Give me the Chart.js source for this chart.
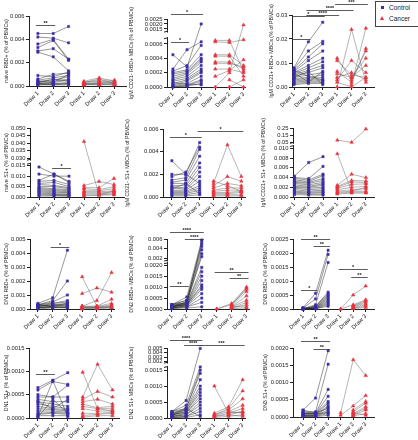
<!DOCTYPE html>
<html>
<head>
<meta charset="utf-8">
<script src="https://cdn.jsdelivr.net/npm/chart.js@4.4.1/dist/chart.umd.min.js"></script>
<style>
    body { margin: 0; background: #fff; }
    #wrap { position: relative; width: 418px; height: 440px; overflow: hidden; background: #fff; }
    #wrap canvas { position: absolute; }
    .legend {
        position: absolute; left: 375px; top: 1px; width: 48px; height: 24px;
        border: 1px solid #444; font: 6.5px 'Liberation Sans', Arial, sans-serif; color: #222;
    }
    .legend div { position: absolute; left: 13px; }
    .legend .sq { position: absolute; left: 5px; top: 4px; width: 3px; height: 3px; background: #3a2fa8; }
    .legend .tri {
        position: absolute; left: 4px; top: 14px; width: 0; height: 0;
        border-left: 2.5px solid transparent; border-right: 2.5px solid transparent; border-bottom: 4px solid #e8323c;
    }
</style>
</head>
<body>
<div id="wrap">
    <div class="legend">
        <span class="sq"></span><div style="top:2px">Control</div>
        <span class="tri"></span><div style="top:13px">Cancer</div>
    </div>
</div>
<script>
const drawLabels = ['Draw 1', 'Draw 2', 'Draw 3'];

// values per subject: [draw 1, draw 2, draw 3], % of PBMCs
const naiveRbdCtrl = [
    [.0045, .0045, .0051], [.0042, .0041, .0037], [.0036, .0040, .0023], [.0033, .0039, .0022],
    [.0030, .0032, .0023], [.0029, .0025, .0013], [.0009, .0008, .0012], [.0006, .0010, .0011],
    [.0005, .0007, .0009], [.0004, .0005, .0008], [.0003, .0004, .0006], [.0003, .0006, .0004],
    [.0002, .0003, .0005], [.0002, .0002, .0003], [.0001, .0002, .0002], [.0001, .0001, .0001],
    [.0004, .0003, .0010], [.0002, .0001, .0002],
];
const naiveRbdCanc = [
    [.0004, .0007, .0004], [.0003, .0005, .0005], [.0003, .0004, .0003], [.0002, .0003, .0004],
    [.0002, .0002, .0003], [.0001, .0003, .0002], [.0001, .0001, .0002], [.0003, .0006, .0002],
    [.0001, .0002, .0001], [.0002, .0001, .0001],
];
const naiveRbdTicks = [0, .002, .004, .006];
const naiveRbdSig = [[0, 1, .00525, '**']];

const igmNegRbdCtrl = [
    [.00045, .00028, .0020], [.00025, .00052, .00063], [.00022, .00030, .00058], [.00020, .00024, .00045],
    [.00018, .00022, .00040], [.00015, .00020, .00038], [.00012, .00018, .00035], [.00010, .00015, .00030],
    [.00008, .00012, .00025], [.00005, .00010, .00022], [.00003, .00008, .00020], [.00002, .00005, .00015],
    [.00001, .00003, .00010], [0, .00002, .00008], [0, .00001, .00005], [.00006, .00004, .00003],
];
const igmNegRbdCanc = [
    [.00065, .00065, .00022], [.00063, .00062, .00066], [.00045, .00045, .00030], [.00043, .00043, .00015],
    [.00035, .00035, .00025], [.00033, .00033, .00028], [.00025, .00025, .00020], [.00015, .00023, .00038],
    [0, .00020, .0019], [null, 0, .0001], [null, .0001, 0],
];
const igmNegRbdTicksLow = [0, .0002, .0004, .0006];
const igmNegRbdTicksHigh = [.0015, .0020, .0025];
const igmNegRbdSig = [[0, 1, .00063, '*'], [0, 2, .0030, '*']];

const igmPosRbdCtrl = [
    [.0080, .0188, .0270], [.0075, .0150, .0190], [.0070, .0125, .0180], [.0065, .0110, .0150],
    [.0060, .0090, .0120], [.0055, .0080, .0105], [.0050, .0070, .0090], [.0045, .0060, .0080],
    [.0040, .0050, .0060], [.0035, .0040, .0050], [.0030, .0035, .0040], [.0025, .0030, .0030],
    [.0020, .0025, .0025], [.0015, .0020, .0020], [.0010, .0015, .0015], [.0070, .0045, .0030],
    [.0060, .0020, .0065], [.0040, .0065, .0010],
];
const igmPosRbdCanc = [
    [.0120, .0030, .0150], [.0110, .0050, .0040], [.0065, .0020, .0160], [.0055, .0040, .0090],
    [.0040, .0060, .0030], [.0030, .0110, .0060], [0, .0240, .0020], [null, .0010, .0245],
    [null, .0040, .0120], [.0020, 0, .0040],
];
const igmPosRbdTicks = [0, .01, .02, .03];
const igmPosRbdSig = [
    [0, 1, .0198, '*'], [0, 2, .0296, '*'], [1, 3, .0301, '****'], [1, 4, .0322, '****'], [3, 5, .0344, '***'],
];

const naiveS1Ctrl = [
    [.0144, .0110, .0075], [.0110, .0100, .0100], [.0080, .0110, .0070], [.0075, .0080, .0060],
    [.0065, .0070, .0050], [.0060, .0055, .0045], [.0050, .0050, .0040], [.0045, .0040, .0035],
    [.0040, .0035, .0030], [.0035, .0030, .0025], [.0030, .0025, .0020], [.0025, .0020, .0018],
    [.0020, .0015, .0012], [.0015, .0012, .0010], [.0010, .0008, .0006], [.0005, .0005, .0004],
];
const naiveS1Canc = [
    [.0410, .0010, .0030], [.0055, .0075, .0060], [.0045, .0045, .0089], [.0040, .0035, .0050],
    [.0030, .0030, .0040], [.0025, .0025, .0030], [.0020, .0020, .0025], [.0015, .0015, .0020],
    [.0010, .0010, .0015], [.0005, .0008, .0010],
];
const naiveS1TicksLow = [0, .005, .010, .015];
const naiveS1TicksHigh = [.030, .035, .040, .045, .050];
const naiveS1Sig = [[1, 2, .0139, '*']];

const igmNegS1Ctrl = [
    [.0032, .0020, .0012], [.0020, .0020, .0048], [.0018, .0022, .0044], [.0015, .0017, .0042],
    [.0013, .0015, .0036], [.0012, .0012, .0030], [.0010, .0010, .0026], [.0009, .0008, .0022],
    [.0008, .0007, .0018], [.0006, .0006, .0014], [.0005, .0005, .0010], [.0004, .0004, .0008],
    [.0003, .0003, .0006], [.0002, .0002, .0004], [.0001, .0001, .0002], [.0007, .0012, .0003],
];
const igmNegS1Canc = [
    [.0014, .0010, .0005], [.0012, .0046, .0018], [.0010, .0018, .0014], [.0008, .0012, .0010],
    [.0006, .0008, .0008], [.0005, .0006, .0006], [.0004, .0004, .0005], [.0003, .0003, .0004],
    [.0002, .0002, .0002], [.0001, .0001, .0001],
];
const igmNegS1Ticks = [0, .002, .004, .006];
const igmNegS1Sig = [[0, 2, .0053, '*'], [2, 5, .00585, '*']];

const igmPosS1Ctrl = [
    [.0043, .0071, .0083], [.0040, .0038, .0063], [.0038, .0035, .0047], [.0035, .0032, .0044],
    [.0032, .0030, .0038], [.0030, .0028, .0034], [.0028, .0025, .0030], [.0025, .0022, .0027],
    [.0022, .0020, .0024], [.0020, .0018, .0020], [.0018, .0015, .0017], [.0015, .0012, .0014],
    [.0012, .0010, .0011], [.0010, .0008, .0009], [.0008, .0006, .0006], [.0005, .0004, .0004],
];
const igmPosS1Canc = [
    [.0830, .0520, .2400], [.0089, .0012, .0020], [.0024, .0047, .0040], [.0022, .0034, .0033],
    [.0020, .0031, .0030], [.0018, .0026, .0027], [.0015, .0020, .0022], [.0012, .0015, .0017],
    [.0010, .0012, .0012], [.0008, .0010, .0010], [.0006, .0008, .0008],
];
const igmPosS1TicksLow = [0, .002, .004, .006, .008, .010];
const igmPosS1TicksHigh = [.05, .15, .25];
const igmPosS1Sig = [];

const dn1RbdCtrl = [
    [.0004, .0008, .0042], [.0003, .0006, .0020], [.0003, .0005, .0010], [.0003, .0004, .0006],
    [.0002, .0004, .0005], [.0002, .0003, .0004], [.0002, .0003, .0003], [.0002, .0002, .0003],
    [.0001, .0002, .0002], [.0001, .0002, .0002], [.0001, .0001, .0001], [.0001, .0001, .0001],
    [0, .0001, .0001], [.0003, .0002, .0004],
];
const dn1RbdCanc = [
    [.0023, .0002, .0002], [.0011, .0015, .0012], [.0002, .0006, .0026], [.0002, .0002, .0007],
    [.0001, .0002, .0004], [.0001, .0001, .0003], [.0001, .0001, .0002], [0, .0001, .0001],
    [.0002, .0001, .0001], [.0001, 0, .0001],
];
const dn1RbdTicks = [0, .001, .002, .003, .004, .005];
const dn1RbdSig = [[1, 2, .00445, '*']];

const dn2RbdCtrl = [
    [.0002, .00055, .0058], [.0002, .0004, .0050], [.0002, .0004, .0045], [.0002, .0003, .0038],
    [.00015, .0003, .0030], [.00015, .0003, .0024], [.00015, .00025, .0019], [.0001, .00025, .0017],
    [.0001, .0002, .0015], [.0001, .0002, .0013], [.0001, .0002, .0011], [.00005, .00015, .0009],
    [.00005, .00015, .0007], [.00005, .0001, .0005], [.00002, .0001, .0003], [.00002, .00005, .0001],
    [.0001, .0003, .0055], [.0001, .0002, .0010],
];
const dn2RbdCanc = [
    [0, .00025, .0010], [0, .0002, .00095], [null, .0002, .0009], [null, .00015, .0008],
    [null, .0001, .0006], [null, .0001, .0004], [null, .00005, .0003], [null, .00005, .0002],
    [null, .0001, .0001], [null, .00002, .00005],
];
const dn2RbdTicksLow = [0, .0005, .0010, .0015, .0020];
const dn2RbdTicksHigh = [.002, .004, .006];
const dn2RbdSig = [
    [0, 1, .00106, '**'], [0, 2, .0075, '****'], [1, 2, .0061, '****'], [3, 5, .00168, '**'], [4, 5, .0014, '**'],
];

const dn3RbdCtrl = [
    [.00005, .00056, .0021], [.00003, .00036, .00195], [.00002, .00015, .00166], [.00002, .0001, .0006],
    [.00001, .0001, .00055], [.00001, .00008, .0005], [.00001, .00006, .00045], [0, .00005, .0004],
    [0, .00004, .00035], [0, .00003, .0003], [0, .00002, .00025], [0, .00002, .0002],
    [0, .00001, .00015], [0, .00001, .0001],
];
const dn3RbdCanc = [
    [0, .0005, .00082], [0, .00015, .00033], [null, .00012, .0003], [null, .0001, .00025],
    [null, .00008, .0002], [null, .00005, .00015], [null, .00003, .0001], [null, .00002, .00005],
];
const dn3RbdTicks = [0, .0005, .0010, .0015, .0020, .0025];
const dn3RbdSig = [
    [0, 1, .00068, '*'], [0, 2, .00249, '**'], [1, 2, .00225, '**'], [3, 5, .00142, '*'], [4, 5, .00116, '**'],
];

const dn1S1Ctrl = [
    [.00065, .00081, .00097], [.00060, .00078, .00072], [.00050, .00045, .00070], [.00045, .00045, .00045],
    [.00040, .00035, .00035], [.00035, .00030, .00025], [.00030, .00025, .00020], [.00025, .00020, .00018],
    [.00020, .00018, .00015], [.00015, .00015, .00012], [.00010, .00012, .00010], [.00008, .00010, .00008],
    [.00005, .00005, .00005], [.00003, .00080, .00003], [.00035, .00020, .00040], [.00002, .00040, .00010],
];
const dn1S1Canc = [
    [.00098, .00020, .00015], [.00045, .00115, .00060], [.00040, .00057, .00045], [.00035, .00040, .00030],
    [.00030, .00022, .00025], [.00025, .00020, .00020], [.00020, .00015, .00015], [.00010, .00010, .00012],
    [.00005, .00008, .00010], [.00002, .00005, .00005],
];
const dn1S1Ticks = [0, .0005, .0010, .0015];
const dn1S1Sig = [[0, 1, .00095, '**']];

const dn2S1Ctrl = [
    [.0002, .00055, .0049], [.0002, .0004, .0016], [.0002, .0003, .0015], [.00015, .0003, .0014],
    [.00015, .00025, .0012], [.0001, .00025, .0010], [.0001, .0002, .0009], [.0001, .0002, .0008],
    [.0001, .00015, .0007], [.00005, .00015, .0006], [.00005, .0001, .0005], [.00005, .0001, .0004],
    [.00002, .00005, .0003], [.00002, .00005, .0002], [.00001, .00002, .0001], [.0001, .0003, .00005],
];
const dn2S1Canc = [
    [.0010, .00015, .0002], [.00015, .00035, .0012], [.0001, .0003, .00085], [.0001, .00025, .0006],
    [.00008, .0002, .0004], [.00005, .00015, .0003], [.00005, .0001, .0002], [.00002, .00005, .0001],
    [null, .0002, .00015], [null, .0001, .00005],
];
const dn2S1TicksLow = [0, .0005, .0010, .0015];
const dn2S1TicksHigh = [.002, .003, .004, .005];
const dn2S1Sig = [[0, 2, .0067, '****'], [1, 2, .0057, '****'], [2, 5, .0057, '***']];

const dn3S1Ctrl = [
    [.0002, .00055, .00192], [.00015, .00015, .00153], [.0001, .00012, .0008], [.0001, .0001, .0006],
    [.0001, .0001, .00045], [.00008, .00008, .0004], [.00006, .00006, .00033], [.00005, .00005, .00028],
    [.00004, .00004, .0002], [.00003, .00003, .00015], [.00002, .00002, .0001], [.00001, .00001, .00005],
    [.0002, .00012, .00025], [.00015, .0001, .00012],
];
const dn3S1Canc = [
    [.00012, .00166, .0012], [.00005, .00032, .00062], [null, .0002, .00045], [null, .00015, .0004],
    [null, .0001, .0003], [null, .00008, .00025], [null, .00005, .0002], [null, .00003, .0001],
    [null, .00012, .00005],
];
const dn3S1Ticks = [0, .0005, .0010, .0015, .0020];
const dn3S1Sig = [[0, 2, .0022, '**'], [1, 2, .00198, '**']];

const blue = '#3a2fa8';
const red = '#e8323c';
const fontFamily = "'Liberation Sans', Arial, sans-serif";

// linear y scale that can jump over a gap (GraphPad style broken axis)
class BrokenScale extends Chart.LinearScale {
    decimalOf(v, seg) {
        const b = this.brk;
        if (!b) {
            return (v - this.min) / (this.max - this.min);
        }
        const upper = seg === undefined ? v > b.low : seg === 1;
        if (!upper) {
            return ((v - this.min) / (b.low - this.min)) * b.split;
        }
        return b.split + b.gap + ((v - b.high) / (this.max - b.high)) * (1 - b.split - b.gap);
    }

    getPixelForValue(v) {
        if (v === null || v === undefined) return NaN;
        return this.getPixelForDecimal(this.decimalOf(v));
    }

    getPixelForTick(index) {
        const tick = this.ticks[index];
        if (!tick) return null;
        return this.getPixelForDecimal(this.decimalOf(tick.value, tick.seg));
    }
}
BrokenScale.id = 'broken';
BrokenScale.defaults = Chart.LinearScale.defaults;
Chart.register(BrokenScale);

const plain = (ticks) => ticks.map((v) => [v, 0]);
const split = (low, high) => low.map((v) => [v, 0]).concat(high.map((v) => [v, 1]));

const panels = [
    {
        title: 'naive RBD+ (% of PBMCs)', ctrl: naiveRbdCtrl, canc: naiveRbdCanc, sig: naiveRbdSig,
        ticks: plain(naiveRbdTicks), max: .006, dec: [3, 3],
        cell: [3, 0], plot: [29, 16, 127, 86], xr: [-0.58, 5.78],
    },
    {
        title: 'IgM CD21- RBD+ MBCs (% of PBMCs)', ctrl: igmNegRbdCtrl, canc: igmNegRbdCanc, sig: igmNegRbdSig,
        ticks: split(igmNegRbdTicksLow, igmNegRbdTicksHigh), max: .0025, dec: [4, 4],
        brk: { low: .00068, high: .00123, split: .717, gap: .098 },
        cell: [128, 0], plot: [167, 19, 246, 87], xr: [-0.42, 5.14],
    },
    {
        title: 'IgM CD21+ RBD+ MBCs (% of PBMCs)', ctrl: igmPosRbdCtrl, canc: igmPosRbdCanc, sig: igmPosRbdSig,
        ticks: plain(igmPosRbdTicks), max: .03, dec: [2, 2],
        cell: [268, 0], plot: [292, 15, 375, 87], xr: [-0.14, 5.6],
    },
    {
        title: 'naive S1+ (% of PBMCs)', ctrl: naiveS1Ctrl, canc: naiveS1Canc, sig: naiveS1Sig,
        ticks: split(naiveS1TicksLow, naiveS1TicksHigh), max: .050, dec: [3, 3],
        brk: { low: .016, high: .029, split: .483, gap: .058 },
        cell: [3, 105], plot: [30, 128, 125, 197], xr: [-0.6, 5.7],
    },
    {
        title: 'IgM CD21- S1+ MBCs (% of PBMCs)', ctrl: igmNegS1Ctrl, canc: igmNegS1Canc, sig: igmNegS1Sig,
        ticks: plain(igmNegS1Ticks), max: .006, dec: [3, 3],
        cell: [124, 105], plot: [163, 129, 246, 197], xr: [-0.64, 5.3],
    },
    {
        title: 'IgM CD21+ S1+ MBCs (% of PBMCs)', ctrl: igmPosS1Ctrl, canc: igmPosS1Canc, sig: igmPosS1Sig,
        ticks: split(igmPosS1TicksLow, igmPosS1TicksHigh), max: .255, dec: [3, 2],
        brk: { low: .0105, high: .045, split: .739, gap: .046 },
        cell: [260, 105], plot: [293, 128, 375, 197], xr: [-0.1, 5.6],
    },
    {
        title: 'DN1 RBD+ (% of PBMCs)', ctrl: dn1RbdCtrl, canc: dn1RbdCanc, sig: dn1RbdSig,
        ticks: plain(dn1RbdTicks), max: .005, dec: [3, 3],
        cell: [3, 215], plot: [30, 239, 115, 309], xr: [-0.54, 5.2],
    },
    {
        title: 'DN2 RBD+ MBCs (% of PBMCs)', ctrl: dn2RbdCtrl, canc: dn2RbdCanc, sig: dn2RbdSig,
        ticks: split(dn2RbdTicksLow, dn2RbdTicksHigh), max: .006, dec: [4, 3],
        brk: { low: .00209, high: .0016, split: .654, gap: .038 },
        cell: [128, 215], plot: [167, 239, 250, 309], xr: [-0.33, 5.2],
    },
    {
        title: 'DN3 RBD+ (% of PBMCs)', ctrl: dn3RbdCtrl, canc: dn3RbdCanc, sig: dn3RbdSig,
        ticks: plain(dn3RbdTicks), max: .0025, dec: [4, 4],
        cell: [262, 215], plot: [293, 239, 375, 309], xr: [-0.8, 5.7],
    },
    {
        title: 'DN1 S1+ (% of PBMCs)', ctrl: dn1S1Ctrl, canc: dn1S1Canc, sig: dn1S1Sig,
        ticks: plain(dn1S1Ticks), max: .0015, dec: [4, 4],
        cell: [3, 325], plot: [29, 348, 120, 418], xr: [-0.6, 5.47],
    },
    {
        title: 'DN2 S1+ MBCs (% of PBMCs)', ctrl: dn2S1Ctrl, canc: dn2S1Canc, sig: dn2S1Sig,
        ticks: split(dn2S1TicksLow, dn2S1TicksHigh), max: .005, dec: [4, 3],
        brk: { low: .0016, high: .0018, split: .729, gap: .062 },
        cell: [128, 325], plot: [167, 348, 246, 418], xr: [-0.35, 5.2],
    },
    {
        title: 'DN3 S1+ (% of PBMCs)', ctrl: dn3S1Ctrl, canc: dn3S1Canc, sig: dn3S1Sig,
        ticks: plain(dn3S1Ticks), max: .0020, dec: [4, 4],
        cell: [262, 325], plot: [293, 348, 375, 417], xr: [-0.8, 5.7],
    },
];

function overlay(panel) {
    return {
        id: 'overlay',
        afterDraw(chart) {
            const { ctx } = chart;
            const x = chart.scales.x;
            const y = chart.scales.y;
            ctx.save();

            if (panel.brk) {
                const yLow = y.getPixelForDecimal(panel.brk.split);
                const yHigh = y.getPixelForDecimal(panel.brk.split + panel.brk.gap);
                const ax = y.right;
                ctx.fillStyle = '#fff';
                ctx.fillRect(ax - 2, yHigh + 1, 4, yLow - yHigh - 2);
                ctx.strokeStyle = '#222';
                ctx.lineWidth = 1;
                [yLow, yHigh].forEach((py) => {
                    ctx.beginPath();
                    ctx.moveTo(ax - 3, py + 0.5);
                    ctx.lineTo(ax + 1, py - 0.5);
                    ctx.stroke();
                });
            }

            ctx.strokeStyle = '#333';
            ctx.fillStyle = '#222';
            ctx.lineWidth = 0.8;
            ctx.font = `bold 5.5px ${fontFamily}`;
            ctx.textAlign = 'center';
            ctx.textBaseline = 'bottom';
            panel.sig.forEach(([a, b, level, text]) => {
                const x0 = x.getPixelForValue(a) - 2;
                const x1 = x.getPixelForValue(b) + 2;
                const py = Math.round(y.getPixelForValue(level)) + 0.5;
                ctx.beginPath();
                ctx.moveTo(x0, py);
                ctx.lineTo(x1, py);
                ctx.stroke();
                ctx.fillText(text, (x0 + x1) / 2, py + 0.5);
            });
            ctx.restore();
        },
    };
}

function subjectLines(rows, offset, color) {
    return rows.map((row) => ({
        type: 'line',
        data: row.map((v, i) => ({ x: offset + i, y: v })),
        borderColor: color,
        borderWidth: 0.6,
        pointRadius: 0,
        spanGaps: false,
        clip: false,
    }));
}

function groupPoints(rows, offset, color, style, radius) {
    const data = [];
    rows.forEach((row) => row.forEach((v, i) => {
        if (v !== null) data.push({ x: offset + i, y: v });
    }));
    return {
        type: 'scatter',
        data,
        pointStyle: style,
        pointRadius: radius,
        pointBackgroundColor: color,
        pointBorderColor: color,
        pointBorderWidth: 0.5,
        showLine: false,
        clip: false,
    };
}

const wrap = document.getElementById('wrap');

panels.forEach((panel) => {
    const [cellX, cellY] = panel.cell;
    const [left, top, right, bottom] = panel.plot;
    const canvas = document.createElement('canvas');
    canvas.width = right - cellX + 4;
    canvas.height = bottom - cellY + 22;
    canvas.style.left = `${cellX}px`;
    canvas.style.top = `${cellY}px`;
    wrap.appendChild(canvas);

    const datasets = [
        groupPoints(panel.ctrl, 0, blue, 'rect', 1.6),
        groupPoints(panel.canc, 3, red, 'triangle', 2),
        ...subjectLines(panel.ctrl, 0, 'rgba(40, 40, 40, 0.8)'),
        ...subjectLines(panel.canc, 3, 'rgba(90, 90, 90, 0.75)'),
    ];

    new Chart(canvas, {
        data: { datasets },
        plugins: [overlay(panel)],
        options: {
            responsive: false,
            animation: false,
            events: [],
            layout: {
                padding: { top: top - cellY, right: 4, bottom: 0, left: 0 },
            },
            plugins: {
                legend: { display: false },
                tooltip: { enabled: false },
            },
            scales: {
                x: {
                    type: 'linear',
                    min: panel.xr[0],
                    max: panel.xr[1],
                    afterBuildTicks: (scale) => {
                        scale.ticks = [0, 1, 2, 3, 4, 5].map((v) => ({ value: v }));
                    },
                    afterFit: (scale) => {
                        scale.height = 22;
                    },
                    grid: { display: true, drawOnChartArea: false, tickLength: 3, color: '#222' },
                    border: { color: '#222', width: 1 },
                    ticks: {
                        autoSkip: false,
                        minRotation: 45,
                        maxRotation: 45,
                        padding: 1,
                        color: '#222',
                        font: { family: fontFamily, size: 5.8 },
                        callback: (v) => drawLabels[v % 3],
                    },
                },
                y: {
                    type: 'broken',
                    min: 0,
                    max: panel.max,
                    beforeUpdate: (scale) => {
                        scale.brk = panel.brk || null;
                    },
                    afterBuildTicks: (scale) => {
                        scale.ticks = panel.ticks.map(([v, seg]) => ({ value: v, seg }));
                    },
                    afterFit: (scale) => {
                        scale.width = left - cellX;
                    },
                    grid: { display: true, drawOnChartArea: false, tickLength: 3, color: '#222' },
                    border: { color: '#222', width: 1 },
                    title: {
                        display: true,
                        text: panel.title,
                        color: '#222',
                        padding: 0,
                        font: { family: fontFamily, size: 5.3 },
                    },
                    ticks: {
                        autoSkip: false,
                        padding: 1.5,
                        color: '#222',
                        font: { family: fontFamily, size: 5.8 },
                        callback: (v, i, ticks) => v.toFixed(ticks[i].seg ? panel.dec[1] : panel.dec[0]),
                    },
                },
            },
        },
    });
});
</script>
</body>
</html>
